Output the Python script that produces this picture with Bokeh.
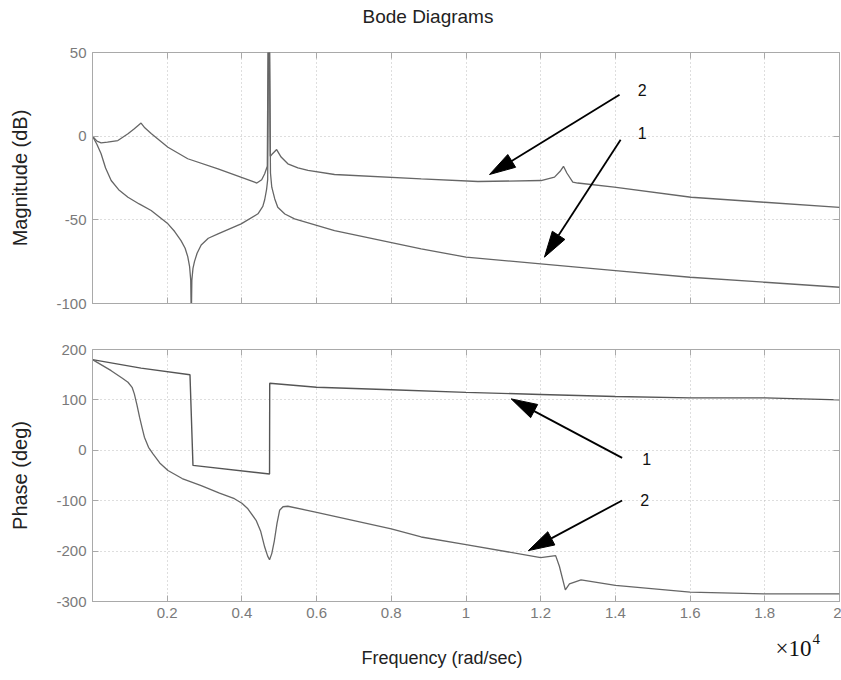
import math
from bokeh.plotting import figure
from bokeh.models import Range1d, FixedTicker, Label, LinearAxis
from bokeh.layouts import column
from bokeh.embed import file_html
from bokeh.resources import INLINE

# ---------------- data (frequency in rad/sec) ----------------
freq_mag1 = [0, 120, 230, 350, 500, 700, 950, 1250, 1570, 2020, 2200, 2370, 2480, 2550, 2600,
             2630, 2645, 2660, 2690, 2730, 2800, 2910, 3100, 3360, 3980, 4430, 4560, 4610,
             4660, 4690, 4715, 4735, 4765, 4800, 4880, 4960, 5150, 5410, 6480, 8800,
             10000, 12000, 14000, 16000, 18000, 20000]
mag1 = [0, -5, -10.5, -19, -26.5, -32, -36.5, -40.5, -44.4, -52.4, -57, -62.4, -67, -72, -78,
        -86, -110, -86, -79, -75, -70, -65, -61, -58.4, -52.4, -46.4, -42, -38,
        -32, -26, 60, 60, -22, -30.5, -37.5, -42.5, -46.5, -49.4, -56.4, -67.3,
        -72.3, -76.3, -80.3, -84.3, -87.3, -90.3]

freq_mag2 = [0, 120, 230, 400, 680, 950, 1120, 1230, 1300, 1400, 1570, 2020, 2550, 3360, 4340,
             4400, 4530, 4610, 4680, 4700, 4740, 4760, 4800, 4930, 5050, 5230, 5500, 5770,
             6480, 8800, 10320, 12010, 12370, 12520, 12610, 12700, 12860, 12990, 13970,
             16030, 17990, 20000]
mag2 = [0, -3, -4, -3.6, -2.6, 1.4, 4.4, 6.5, 7.8, 5, 1.6, -6.6, -13.5, -19.5, -27.5,
        -28, -26, -22.5, -18, 60, 60, -12, -11, -8, -12.5, -16.5, -19, -20.5,
        -22.9, -25.5, -27.1, -26.5, -24.5, -21, -18, -22, -27.5, -28, -30.5,
        -36.5, -39.5, -42.5]

freq_ph1 = [0, 1300, 2610, 2690, 4740, 4745, 6000, 8000, 10000, 12000, 14000, 16000, 18000, 20000]
phase1 = [180, 163, 150, -30, -47, 133, 125, 120, 115, 110.7, 106.7, 104, 104, 100]

freq_ph2 = [0, 500, 800, 950, 1060, 1120, 1190, 1260, 1330, 1390, 1500, 1620, 1800, 2020, 2400,
            2910, 3400, 3800, 4000, 4160, 4380, 4500, 4610, 4690, 4740, 4800, 4870, 4940,
            5010, 5100, 5230, 6000, 8000, 8800, 10000, 12000, 12400, 12500, 12660, 12770,
            13080, 14000, 16000, 18000, 20000]
phase2 = [180, 158, 143, 135, 125, 112, 90, 65.7, 44, 26, 6, -7, -25, -40, -56,
          -70, -85, -96, -105, -116, -139, -160, -192, -210, -217, -205, -179, -145,
          -119, -112, -111, -123, -156, -172, -187, -213, -209, -230, -277, -265,
          -257, -268, -281.5, -285, -285]

x_ticks = [2000, 4000, 6000, 8000, 10000, 12000, 14000, 16000, 18000, 20000]
x_tick_labels = ["0.2", "0.4", "0.6", "0.8", "1", "1.2", "1.4", "1.6", "1.8", "2"]
mag_ticks = [-100, -50, 0, 50]
mag_tick_labels = ["-100", "-50", "0", "50"]
phase_ticks = [-300, -200, -100, 0, 100, 200]
phase_tick_labels = ["-300", "-200", "-100", "0", "100", "200"]

# annotation arrows (labels, start, tip, label position)
mag_arrow_text = ["2", "1"]
mag_arrow_start_f = [14110, 14140]
mag_arrow_start_v = [24.7, -2.2]
mag_arrow_tip_f = [10630, 12100]
mag_arrow_tip_v = [-22.9, -72.3]
mag_label_f = [14718, 14718]
mag_label_v = [27.3, 1.6]

ph_arrow_text = ["1", "2"]
ph_arrow_start_f = [14180, 14180]
ph_arrow_start_v = [-15, -99.6]
ph_arrow_tip_f = [11210, 11670]
ph_arrow_tip_v = [102, -199]
ph_label_f = [14838, 14784]
ph_label_v = [-16.9, -98.6]

# header / footer texts: pixel positions inside their strips (x from canvas left, y from bottom)
title_text = "Bode Diagrams"
title_xy = (362, 20)
xlabel_text = "Frequency (rad/sec)"
xlabel_xy = (361, 15)
exp_base_text = "\u00d710"
exp_base_xy = (775, 24)
exp_power_text = "4"
exp_power_xy = (812, 34)

# ---------------- styling ----------------
FONT = "Liberation Sans"
FRAME_W = 747
LEFT = 92
RIGHT = 2
X_RANGE = (0, 20000)
CURVE = "#666666"
GRID = "#bdbdbd"
BOX = "#a9a9a9"
TICKTXT = "#7a7a7a"


def style(p, yticks, ylabels, show_x_labels):
    xt = FixedTicker(ticks=x_ticks)
    yt = FixedTicker(ticks=yticks)
    p.xaxis.ticker = xt
    p.xgrid.ticker = xt
    p.yaxis.ticker = yt
    p.ygrid.ticker = yt
    for g in (p.xgrid, p.ygrid):
        g.grid_line_color = GRID
        g.grid_line_dash = "1 3"
        g.grid_line_width = 1
    p.outline_line_color = BOX
    p.outline_line_width = 1
    for ax in (p.xaxis, p.yaxis):
        ax.axis_line_color = BOX
        ax.major_tick_line_color = BOX
        ax.minor_tick_line_color = None
        ax.major_tick_in = 6
        ax.major_tick_out = 0
        ax.major_label_text_font = FONT
        ax.major_label_text_font_size = "15px"
        ax.major_label_text_color = TICKTXT
        ax.major_label_standoff = 6
        ax.axis_label_text_font = FONT
        ax.axis_label_text_font_style = "normal"
        ax.axis_label_text_font_size = "20px"
        ax.axis_label_text_color = "#222222"
    p.xaxis.major_label_overrides = {t: s for t, s in zip(x_ticks, x_tick_labels)}
    p.yaxis.major_label_overrides = {t: s for t, s in zip(yticks, ylabels)}
    if not show_x_labels:
        p.xaxis.major_label_text_font_size = "0px"
        p.xaxis.major_label_standoff = 0
    top = LinearAxis(ticker=xt, axis_line_color=None, major_tick_line_color=BOX,
                     minor_tick_line_color=None, major_tick_in=6, major_tick_out=0,
                     major_label_text_font_size="0px", major_label_standoff=0)
    right = LinearAxis(ticker=yt, axis_line_color=None, major_tick_line_color=BOX,
                       minor_tick_line_color=None, major_tick_in=6, major_tick_out=0,
                       major_label_text_font_size="0px", major_label_standoff=0)
    p.add_layout(top, "above")
    p.add_layout(right, "right")


def arrows(p, sx, sy, sf, sv, tf, tv):
    L, W = 26.0, 15.0
    x0s, y0s, x1s, y1s, hx, hy = [], [], [], [], [], []
    for a, b, c, d in zip(sf, sv, tf, tv):
        dx, dy = (c - a) * sx, (d - b) * sy
        n = math.hypot(dx, dy)
        ux, uy = dx / n, dy / n
        bx, by = c * sx - ux * L, d * sy - uy * L
        px, py = -uy * W / 2, ux * W / 2
        x0s.append(a); y0s.append(b)
        x1s.append(bx / sx); y1s.append(by / sy)
        hx.append([c, (bx + px) / sx, (bx - px) / sx])
        hy.append([d, (by + py) / sy, (by - py) / sy])
    p.segment(x0=x0s, y0=y0s, x1=x1s, y1=y1s, line_color="black", line_width=1.8)
    p.patches(xs=hx, ys=hy, fill_color="black", line_color="black", line_width=1)


def labels(p, fs, vs, texts):
    for f, v, t in zip(fs, vs, texts):
        p.add_layout(Label(x=f, y=v, text=t, text_align="center", text_baseline="middle",
                           text_font=FONT, text_font_size="16px", text_color="#111111"))


def strip(height):
    s = figure(frame_width=FRAME_W, frame_height=height, output_backend="svg",
               toolbar_location=None, title=None,
               x_range=Range1d(LEFT, LEFT + FRAME_W), y_range=Range1d(0, height),
               min_border_left=LEFT, min_border_right=RIGHT, min_border_top=0,
               min_border_bottom=0, x_axis_type=None, y_axis_type=None,
               background_fill_color="white", border_fill_color="white")
    s.outline_line_color = None
    s.xgrid.visible = False
    s.ygrid.visible = False
    return s


def text(s, xy, t, font, size, color):
    s.add_layout(Label(x=xy[0], y=xy[1], text=t, text_align="left", text_baseline="middle",
                       text_font=font, text_font_size=size, text_color=color))


# ---------------- header ----------------
head = strip(36)
text(head, title_xy, title_text, FONT, "19px", "#222222")

# ---------------- magnitude panel ----------------
p1 = figure(frame_width=FRAME_W, frame_height=251, output_backend="svg", toolbar_location=None,
            title=None, x_range=Range1d(*X_RANGE), y_range=Range1d(-100, 50),
            min_border_left=LEFT, min_border_right=RIGHT, min_border_top=16,
            min_border_bottom=23, background_fill_color="white", border_fill_color="white")
style(p1, mag_ticks, mag_tick_labels, False)
p1.yaxis[0].axis_label = "Magnitude (dB)"
p1.yaxis[0].axis_label_standoff = 22
p1.line(freq_mag1, mag1, line_color=CURVE, line_width=1.3)
p1.line(freq_mag2, mag2, line_color=CURVE, line_width=1.3)
arrows(p1, FRAME_W / 20000, 251 / 150, mag_arrow_start_f, mag_arrow_start_v,
       mag_arrow_tip_f, mag_arrow_tip_v)
labels(p1, mag_label_f, mag_label_v, mag_arrow_text)

# ---------------- phase panel ----------------
p2 = figure(frame_width=FRAME_W, frame_height=252, output_backend="svg", toolbar_location=None,
            title=None, x_range=p1.x_range, y_range=Range1d(-300, 200),
            min_border_left=LEFT, min_border_right=RIGHT, min_border_top=23,
            min_border_bottom=30, background_fill_color="white", border_fill_color="white")
style(p2, phase_ticks, phase_tick_labels, True)
p2.yaxis[0].axis_label = "Phase (deg)"
p2.yaxis[0].axis_label_standoff = 22
p2.line(freq_ph1, phase1, line_color="#555555", line_width=1.4)
p2.line(freq_ph2, phase2, line_color=CURVE, line_width=1.3)
arrows(p2, FRAME_W / 20000, 252 / 500, ph_arrow_start_f, ph_arrow_start_v,
       ph_arrow_tip_f, ph_arrow_tip_v)
labels(p2, ph_label_f, ph_label_v, ph_arrow_text)

# ---------------- footer ----------------
foot = strip(41)
text(foot, xlabel_xy, xlabel_text, FONT, "18px", "#222222")
text(foot, exp_base_xy, exp_base_text, "Liberation Serif", "23px", "#111111")
text(foot, exp_power_xy, exp_power_text, "Liberation Serif", "15px", "#111111")

layout = column(head, p1, p2, foot, spacing=0)
open("out.html", "w").write(file_html(layout, INLINE))
